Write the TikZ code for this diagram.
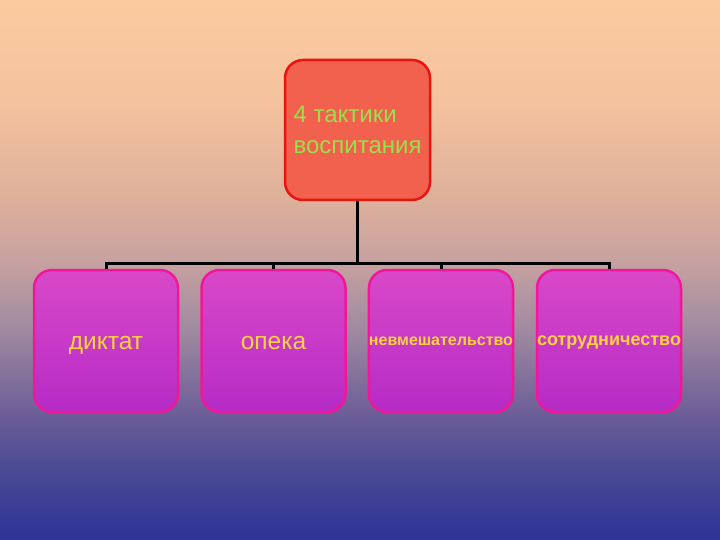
\documentclass[tikz,border=0pt]{standalone}
\usepackage{fontspec}
\setmainfont{Liberation Sans}
\usepackage{tikz}
\usetikzlibrary{arrows}

\definecolor{bgtop}{HTML}{FBCB9F}
\definecolor{bgb}{HTML}{F4C29E}
\definecolor{bgc}{HTML}{DDB09B}
\definecolor{bgd}{HTML}{C8A2A0}
\definecolor{bge}{HTML}{A08AA0}
\definecolor{bgf}{HTML}{6E5F98}
\definecolor{bgg}{HTML}{4A4A95}
\definecolor{bgbot}{HTML}{2E3396}
\definecolor{coral}{HTML}{F2604E}
\definecolor{redline}{HTML}{E8150F}
\definecolor{lime}{HTML}{99E04A}
\definecolor{violtop}{HTML}{DA48C8}
\definecolor{violbot}{HTML}{B52BC6}
\definecolor{pinkline}{HTML}{F0189A}
\definecolor{gold}{HTML}{FFD23F}

\pgfdeclareverticalshading{slidebg}{100bp}{color(0bp)=(bgbot); color(25bp)=(bgbot);
  color(31.5bp)=(bgg); color(37bp)=(bgf); color(44.5bp)=(bge); color(51bp)=(bgd);
  color(56.5bp)=(bgc); color(65.5bp)=(bgb); color(75bp)=(bgtop); color(100bp)=(bgtop)}

\begin{document}
\begin{tikzpicture}[x=1pt,y=-1pt,
    topbox/.style={draw=redline, line width=2.5pt, fill=coral, rounded corners=18pt,
      minimum width=145pt, minimum height=140pt, text=lime, font=\fontsize{24}{31}\selectfont, align=left},
    tacticbox/.style={draw=pinkline, line width=2.5pt, top color=violtop, bottom color=violbot,
      rounded corners=18pt, minimum width=144pt, minimum height=142pt, text=gold, inner sep=0pt},
    bigword/.style={font=\fontsize{24.5}{28}\selectfont, text height=16pt, text depth=0pt},
    smallword/.style={font=\bfseries\fontsize{16}{18}\selectfont, text height=9pt, text depth=0pt},
    link/.style={line width=3pt, black}]
  \fill[shading=slidebg] (0,0) rectangle (720,540);
  \useasboundingbox (0,0) rectangle (720,540);
  \node [topbox] (tactics) at (357.5,130) {4 тактики\\воспитания};
  \node [tacticbox, bigword] (diktat) at (106,341) {диктат};
  \node [tacticbox, bigword] (opeka) at (273.5,341) {опека};
  \node [tacticbox, smallword] (nevmesh) at (441,341) {невмешательство};
  \node [tacticbox, smallword, font=\bfseries\fontsize{18}{20}\selectfont] (sotrud) at (609,341) {сотрудничество};
  \coordinate (bus) at (357.5,263);
  \draw [link] (tactics.south) -- (bus);
  \draw [link] (diktat.north) -- (diktat.north |- bus) -- (sotrud.north |- bus) -- (sotrud.north);
  \draw [link] (opeka.north) -- (opeka.north |- bus);
  \draw [link] (nevmesh.north) -- (nevmesh.north |- bus);
\end{tikzpicture}
\end{document}
